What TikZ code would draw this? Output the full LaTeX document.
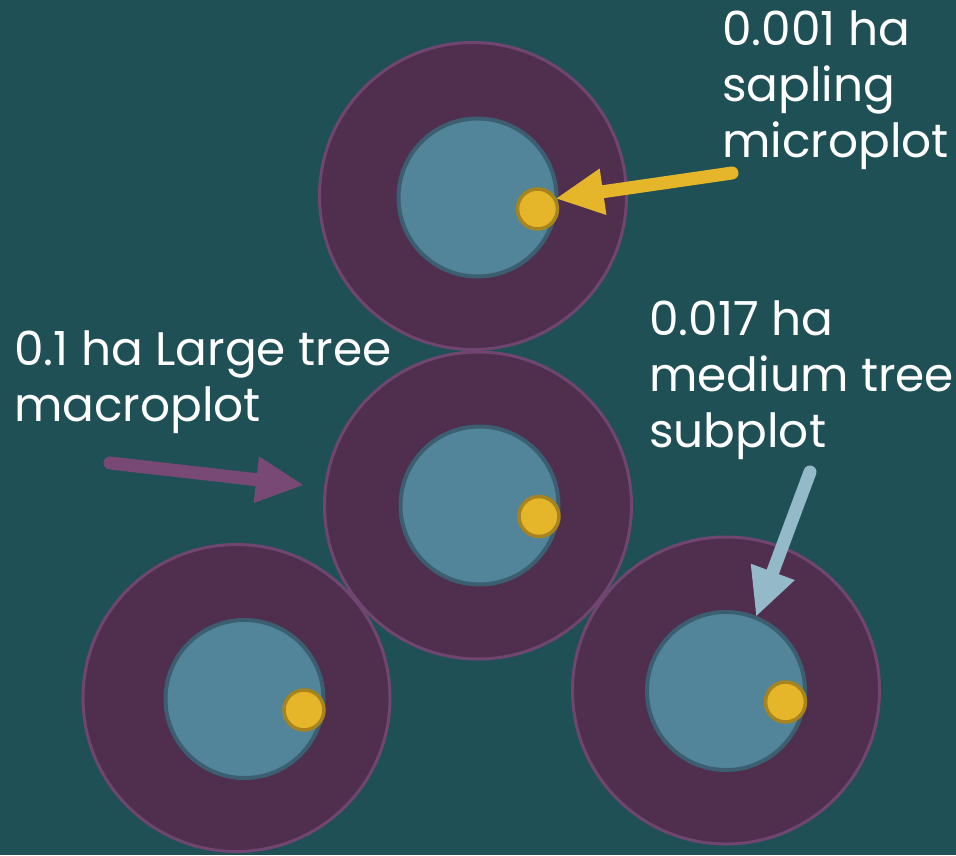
\documentclass[tikz,border=0pt]{standalone}
\usepackage{fontspec}
\setmainfont{Poppins}
\usetikzlibrary{arrows.meta}
\definecolor{bg}{HTML}{1F5055}
\definecolor{outerfill}{HTML}{4F2F4D}
\definecolor{outerline}{HTML}{704670}
\definecolor{innerfill}{HTML}{53859A}
\definecolor{innerline}{HTML}{3B5F70}
\definecolor{dotfill}{HTML}{E5B62A}
\definecolor{dotline}{HTML}{A8841E}
\definecolor{arrowyellow}{HTML}{E5B62A}
\definecolor{arrowpurple}{HTML}{784975}
\definecolor{arrowblue}{HTML}{94B9C8}
\tikzset{
  macro/.style={circle, fill=outerfill, draw=outerline, line width=3pt, minimum size=307pt, inner sep=0pt},
  subp/.style={circle, fill=innerfill, draw=innerline, line width=4pt, minimum size=158pt, inner sep=0pt},
  micro/.style={circle, fill=dotfill, draw=dotline, line width=3.5pt, minimum size=40pt, inner sep=0pt},
  lbl/.style={text=white, align=left, anchor=base west, inner sep=0pt, font=\fontsize{47}{56}\selectfont},
  bigarrow/.style={line width=13pt, line cap=round, -{Triangle[length=47pt,width=47pt,line width=0pt]}},
}
\begin{document}
\begin{tikzpicture}[x=1pt,y=-1pt]
\fill[bg] (0,0) rectangle (956,855);
\useasboundingbox (0,0) rectangle (956,855);
% top cluster
\node[macro] (topO) at (473,196) {};
\node[subp] (topI) at (477.5,197.5) {};
\node[micro] (topD) at (537.5,209) {};
% middle cluster
\node[macro] (midO) at (478,505.5) {};
\node[subp] (midI) at (479.5,505.5) {};
\node[micro] (midD) at (539,516.5) {};
% bottom-left cluster
\node[macro] (blO) at (236.5,698) {};
\node[subp] (blI) at (244.5,699) {};
\node[micro] (blD) at (304,710) {};
% bottom-right cluster
\node[macro] (brO) at (726,690.5) {};
\node[subp] (brI) at (726,691) {};
\node[micro] (brD) at (785.5,702) {};
% labels (base anchor = baseline of last line)
\node[lbl] (lmicro) at (722,157) {0.001 ha\\sapling\\microplot};
\node[lbl] (lmacro) at (14,421) {0.1 ha Large tree\\macroplot};
\node[lbl] (lsub) at (649,447) {0.017 ha\\medium tree\\subplot};
% arrows
\coordinate (ytail) at (732,173);
\coordinate (ptail) at (110,463);
\coordinate (ptip) at (303,485);
\coordinate (btail) at (810,472);
\draw[bigarrow, arrowyellow] (ytail) -- (topD.29);
\draw[bigarrow, arrowpurple] (ptail) -- (ptip);
\draw[bigarrow, arrowblue] (btail) -- (brI.68);
\end{tikzpicture}
\end{document}
